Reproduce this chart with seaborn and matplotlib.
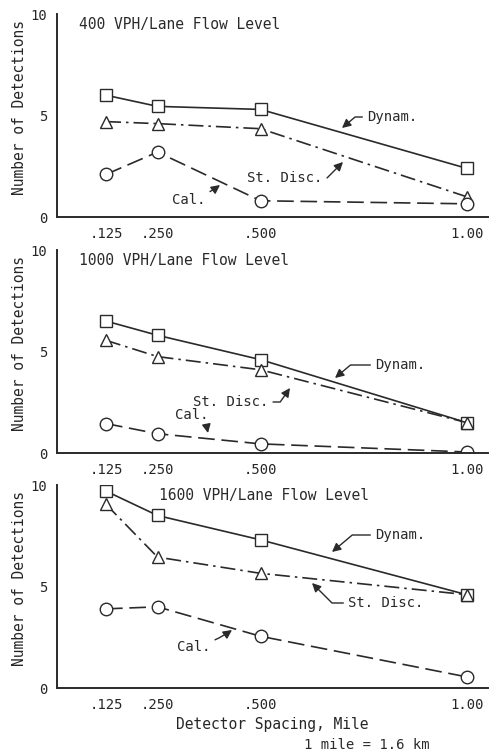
import matplotlib
matplotlib.use("Agg")
import matplotlib.pyplot as plt
import seaborn as sns
import pandas as pd

sns.set_theme(style="white")
plt.rcParams['font.family'] = ['DejaVu Sans Mono', 'DejaVu Sans']

spacing = [0.125, 0.250, 0.500, 1.00]
tick_labels = [".125", ".250", ".500", "1.00"]
series = ["Dynam.", "St. Disc.", "Cal."]

titles = ["400 VPH/Lane Flow Level", "1000 VPH/Lane Flow Level", "1600 VPH/Lane Flow Level"]

dynam_400 = [6.0, 5.45, 5.3, 2.4]
stdisc_400 = [4.7, 4.6, 4.35, 1.0]
cal_400 = [2.1, 3.2, 0.8, 0.65]

dynam_1000 = [6.5, 5.8, 4.6, 1.5]
stdisc_1000 = [5.55, 4.75, 4.1, 1.5]
cal_1000 = [1.45, 0.95, 0.45, 0.05]

dynam_1600 = [9.7, 8.5, 7.3, 4.6]
stdisc_1600 = [9.05, 6.45, 5.65, 4.6]
cal_1600 = [3.9, 4.0, 2.55, 0.55]

panels = [
    (dynam_400, stdisc_400, cal_400),
    (dynam_1000, stdisc_1000, cal_1000),
    (dynam_1600, stdisc_1600, cal_1600),
]

styles = {
    "Dynam.": dict(linestyle="-", marker="s"),
    "St. Disc.": dict(linestyle=(0, (9, 3, 1.5, 3)), marker="^"),
    "Cal.": dict(linestyle=(0, (10, 4)), marker="o"),
}

fig = plt.figure(figsize=(5.02, 7.54), dpi=100)
bottoms = [0.7122, 0.3992, 0.0875]
axes = [fig.add_axes([0.1135, b, 0.8586, 0.2692]) for b in bottoms]

# (text, text pos (fig px), arrow tip (fig px), ha, connectionstyle)
ann = [
    [("Dynam.", (367, 117), (342, 128), "left", "angle,angleA=0,angleB=40,rad=0"),
     ("St. Disc.", (247, 178), (343, 162), "left", "angle,angleA=0,angleB=45,rad=0"),
     ("Cal.", (172, 200), (220, 185), "left", "arc3,rad=0.1")],
    [("Dynam.", (375, 365), (335, 378), "left", "angle,angleA=0,angleB=40,rad=0"),
     ("St. Disc.", (193, 402), (290, 388), "left", "angle,angleA=0,angleB=55,rad=0"),
     ("Cal.", (175, 415), (208, 433), "left", "arc3,rad=-0.3")],
    [("Dynam.", (375, 535), (332, 552), "left", "angle,angleA=0,angleB=40,rad=0"),
     ("St. Disc.", (348, 603), (312, 583), "left", "angle,angleA=0,angleB=-45,rad=0"),
     ("Cal.", (177, 647), (232, 630), "left", "arc3,rad=0.1")],
]

ink = "#2a2a2a"
for i, ax in enumerate(axes):
    vals = panels[i]
    df = pd.DataFrame({
        "spacing": spacing * 3,
        "value": list(vals[0]) + list(vals[1]) + list(vals[2]),
        "series": [s for s in series for _ in spacing],
    })
    for s in series:
        sub = df[df["series"] == s]
        st = styles[s]
        sns.lineplot(data=sub, x="spacing", y="value", ax=ax, color=ink,
                     linewidth=1.2, linestyle=st["linestyle"], marker=st["marker"],
                     markersize=9, markerfacecolor="white", markeredgecolor=ink,
                     markeredgewidth=1.0, legend=False)
    ax.set_xlim(0.006, 1.052)
    ax.set_ylim(0, 10)
    ax.set_xticks(spacing)
    ax.set_xticklabels(tick_labels, fontsize=10)
    ax.set_yticks([0, 5, 10])
    ax.set_yticklabels(["0", "5", "10"], fontsize=10)
    ax.tick_params(axis="x", direction="inout", length=6, width=1, color=ink, pad=4)
    ax.tick_params(axis="y", direction="in", length=5, width=1, color=ink, pad=7)
    for sp in ["top", "right"]:
        ax.spines[sp].set_visible(False)
    for sp in ["left", "bottom"]:
        ax.spines[sp].set_color(ink)
        ax.spines[sp].set_linewidth(1.4)
    ax.set_xlabel("")
    ax.set_ylabel("Number of Detections", fontsize=10.5)
    ax.yaxis.set_label_coords(-0.07, 0.54)
    if i < 2:
        ax.text(0.05, 0.985, titles[i], transform=ax.transAxes, fontsize=10.5,
                va="top", ha="left", color=ink)
    else:
        ax.text(0.48, 0.985, titles[i], transform=ax.transAxes, fontsize=10.5,
                va="top", ha="center", color=ink)
    for txt, (tx, ty), (axp, ayp), ha, cs in ann[i]:
        ax.annotate(txt, xy=(axp / 502, 1 - ayp / 754), xycoords="figure fraction",
                    xytext=(tx / 502, 1 - ty / 754), textcoords="figure fraction",
                    fontsize=10, ha=ha, va="center", color=ink,
                    arrowprops=dict(arrowstyle="-|>", color=ink, lw=1.0,
                                    mutation_scale=13, shrinkA=1, shrinkB=0,
                                    connectionstyle=cs))

axes[2].set_xlabel("Detector Spacing, Mile", fontsize=10.5, labelpad=4)
fig.text(367 / 502, 1 - 745 / 754, "1 mile = 1.6 km", fontsize=10, ha="center",
         va="center", color=ink)

fig.savefig("out.png", dpi=100, facecolor="white")
